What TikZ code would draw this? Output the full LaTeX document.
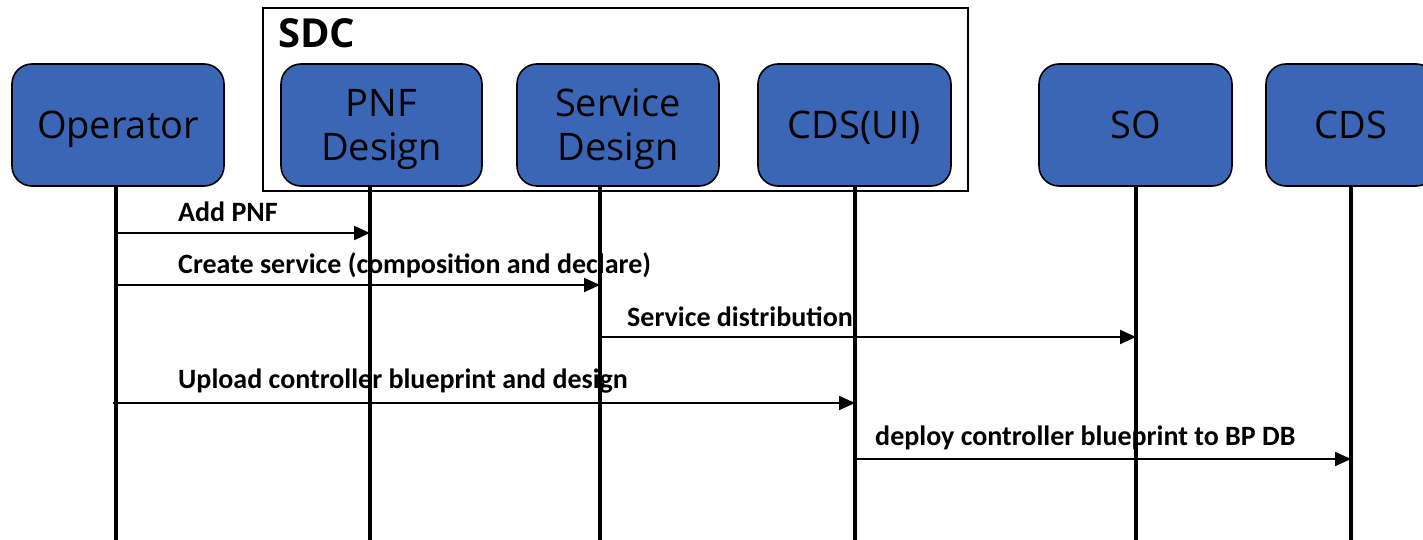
\documentclass[tikz,border=0pt]{standalone}
\usepackage{fontspec}
\setmainfont{Open Sans}
\newfontfamily\lblfont{Carlito}
\usetikzlibrary{arrows.meta,calc}
\definecolor{boxblue}{RGB}{58,102,181}
\begin{document}
\begin{tikzpicture}[x=1pt,y=-1pt,
  actor/.style={draw=black,line width=1.6pt,fill=boxblue,rounded corners=20pt,minimum height=122pt,inner sep=0pt,align=center,font=\fontsize{38}{44}\selectfont,text=black,text height=27pt,text depth=0pt},
  twoline/.style={text height=71pt,text depth=0pt},
  group/.style={draw=black,line width=2pt,inner sep=0pt,anchor=north west},
  life/.style={line width=3.2pt},
  msg/.style={line width=2pt,-{Triangle[length=16pt,width=14pt]}},
  lbl/.style={anchor=base west,inner sep=0pt,font=\lblfont\bfseries\fontsize{28}{32}\selectfont}]
\useasboundingbox (0,0) rectangle (1423,540);
\node[group,minimum width=705pt,minimum height=183pt] (sdc) at (262,7) {};
\node[anchor=base west,inner sep=0pt,font=\bfseries\fontsize{40}{44}\selectfont] (sdclbl) at (278,48) {SDC};
\node[actor,minimum width=212pt] (op) at (118,125) {Operator};
\node[actor,twoline,minimum width=201pt] (pnf) at (381.5,125) {PNF\\Design};
\node[actor,twoline,minimum width=202pt] (sd) at (618,125) {Service\\Design};
\node[actor,minimum width=193pt] (cui) at (854.5,125) {CDS(UI)};
\node[actor,minimum width=193pt] (so) at (1135.5,125) {SO};
\node[actor,minimum width=170pt] (cds) at (1351,125) {CDS};
% lifelines
\coordinate (opT) at (116,186);  \coordinate (opB) at (116,540);
\coordinate (pnfT) at (370,186); \coordinate (pnfB) at (370,540);
\coordinate (sdT) at (600,186);  \coordinate (sdB) at (600,540);
\coordinate (cuiT) at (855,186); \coordinate (cuiB) at (855,540);
\coordinate (soT) at (1136,186); \coordinate (soB) at (1136,540);
\coordinate (cdsT) at (1351,186);\coordinate (cdsB) at (1351,540);
\foreach \l in {op,pnf,sd,cui,so,cds}{\draw[life] (\l T) -- (\l B);}
% messages
\draw[msg] (opT |- 0,233) -- (pnfT |- 0,233);
\node[lbl] (m1) at (178,222) {Add PNF};
\draw[msg] (opT |- 0,285) -- (sdT |- 0,285);
\node[lbl] (m2) at (178,273) {Create service (composition and declare)};
\draw[msg] (sdT |- 0,337) -- (soT |- 0,337);
\node[lbl] (m3) at (627,326) {Service distribution};
\draw[msg] ([xshift=-3pt]opT |- 0,403) -- (cuiT |- 0,403);
\node[lbl] (m4) at (178,388) {Upload controller blueprint and design};
\draw[msg] (cuiT |- 0,459) -- (cdsT |- 0,459);
\node[lbl] (m5) at (875,445) {deploy controller blueprint to BP DB};
\end{tikzpicture}
\end{document}
